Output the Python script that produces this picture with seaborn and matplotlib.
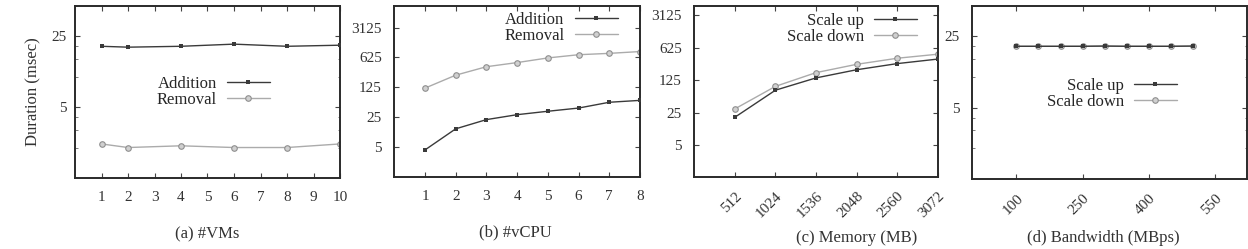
import numpy as np
import pandas as pd
import matplotlib
matplotlib.use("Agg")
import matplotlib.pyplot as plt
import matplotlib.ticker as mticker
import seaborn as sns

# ---------------- data ----------------
vms_x = [1, 2, 4, 6, 8, 10]
vms_addition = [20.0, 19.6, 20.0, 21.0, 20.0, 20.5]
vms_removal = [2.17, 2.0, 2.08, 2.0, 2.0, 2.17]

vcpu_x = [1, 2, 3, 4, 5, 6, 7, 8]
vcpu_addition = [4.3, 13.4, 22, 28.7, 34.5, 41, 56, 62]
vcpu_removal = [120, 241, 380, 475, 610, 725, 780, 860]

mem_x = [512, 1024, 1536, 2048, 2560, 3072]
mem_scale_up = [19.8, 76, 140, 210, 285, 357]
mem_scale_down = [30, 92, 182, 275, 372, 455]

bw_x = [100, 150, 200, 250, 300, 350, 400, 450, 500]
bw_scale_up = [20.0, 20.0, 20.0, 20.0, 20.1, 20.0, 20.0, 20.0, 20.1]
bw_scale_down = [20.0, 20.0, 20.0, 20.0, 20.1, 20.0, 20.0, 20.0, 20.1]

captions = ["(a) #VMs", "(b) #vCPU", "(c) Memory (MB)", "(d) Bandwidth (MBps)"]
ylabel = "Duration (msec)"

# ---------------- style ----------------
sns.set_theme(style="ticks")
plt.rcParams["font.family"] = ["Liberation Serif", "DejaVu Serif"]
plt.rcParams["mathtext.fontset"] = "dejavuserif"

DARK = "#3a3a3a"
LIGHT = "#ababab"
FS = 11

fig = plt.figure(figsize=(12.48, 2.49), dpi=100)
W, H = 1248, 249

def add_ax(l, r, t, b):
    return fig.add_axes([l / W, 1 - b / H, (r - l) / W, (b - t) / H])

axes = [
    add_ax(75, 340, 6, 178),
    add_ax(394.3, 640, 6, 177),
    add_ax(694.3, 937.7, 6, 177.3),
    add_ax(972.3, 1246.7, 5.7, 179),
]

specs = [
    dict(x=vms_x, s1=vms_addition, s2=vms_removal, n1="Addition", n2="Removal",
         xlim=(0, 10), ylim=(1, 50), yt=[5, 25], xt=list(range(1, 11)), rot=0,
         leg=(0.736, 0.50)),
    dict(x=vcpu_x, s1=vcpu_addition, s2=vcpu_removal, n1="Addition", n2="Removal",
         xlim=(0, 8), ylim=(1, 10000), yt=[5, 25, 125, 625, 3125], xt=list(range(1, 9)), rot=0,
         leg=(0.910, 0.870)),
    dict(x=mem_x, s1=mem_scale_up, s2=mem_scale_down, n1="Scale up", n2="Scale down",
         xlim=(0, 3072), ylim=(1, 5000), yt=[5, 25, 125, 625, 3125], xt=mem_x, rot=45,
         leg=(0.915, 0.868)),
    dict(x=bw_x, s1=bw_scale_up, s2=bw_scale_down, n1="Scale up", n2="Scale down",
         xlim=(0, 622), ylim=(1, 50), yt=[5, 25], xt=[100, 250, 400, 550], rot=45,
         leg=(0.746, 0.492)),
]

for ax, sp in zip(axes, specs):
    sns.lineplot(x=sp["x"], y=sp["s2"], ax=ax, color=LIGHT, lw=1.0, marker="o",
                 markersize=4, markerfacecolor="#d0d0d0", markeredgecolor="#8f8f8f",
                 markeredgewidth=0.8, label=sp["n2"], zorder=2)
    sns.lineplot(x=sp["x"], y=sp["s1"], ax=ax, color=DARK, lw=1.0, marker="s",
                 markersize=2.2, markeredgewidth=0, label=sp["n1"], zorder=3)
    ax.set_yscale("log")
    ax.set_xlim(*sp["xlim"])
    ax.set_ylim(*sp["ylim"])
    ax.set_yticks(sp["yt"])
    ax.set_yticklabels([str(v) for v in sp["yt"]])
    ax.yaxis.set_minor_locator(mticker.LogLocator(base=5, subs=(2, 3, 4)))
    ax.yaxis.set_minor_formatter(mticker.NullFormatter())
    ax.set_xticks(sp["xt"])
    if sp["rot"]:
        ax.set_xticklabels([str(v) for v in sp["xt"]], rotation=45, ha="right",
                           va="top", rotation_mode="anchor")
    else:
        ax.set_xticklabels([str(v) for v in sp["xt"]])
    ax.set_xlabel("")
    ax.set_ylabel("")
    ax.tick_params(axis="both", which="major", direction="in", length=3.5, width=0.8,
                   top=True, right=True, labelsize=FS, colors="#444444",
                   labelcolor="#333333", pad=9)
    ax.tick_params(axis="y", which="minor", direction="in", length=1.8, width=0.6,
                   right=True, colors="#666666")
    for s in ax.spines.values():
        s.set_linewidth(1.4)
        s.set_color("#2a2a2a")
    ax.grid(False)
    handles, labels = ax.get_legend_handles_labels()
    order = [labels.index(sp["n1"]), labels.index(sp["n2"])]
    ax.legend([handles[i] for i in order], [labels[i] for i in order],
              loc="center right", bbox_to_anchor=sp["leg"], frameon=False,
              markerfirst=False, fontsize=FS + 1, handlelength=2.6,
              handletextpad=0.6, labelspacing=0.0, borderpad=0, borderaxespad=0)

axes[0].tick_params(axis="y", pad=6)
axes[0].set_ylabel(ylabel, fontsize=FS + 1, color="#333333")
axes[0].yaxis.set_label_coords(-0.125, 0.5)

for txt, (x, y) in zip(captions, [(207, 234), (515, 232), (857, 238), (1103, 238)]):
    fig.text(x / W, 1 - y / H, txt, ha="center", va="center", fontsize=FS + 1,
             color="#333333")

fig.savefig("out.png", dpi=100)
